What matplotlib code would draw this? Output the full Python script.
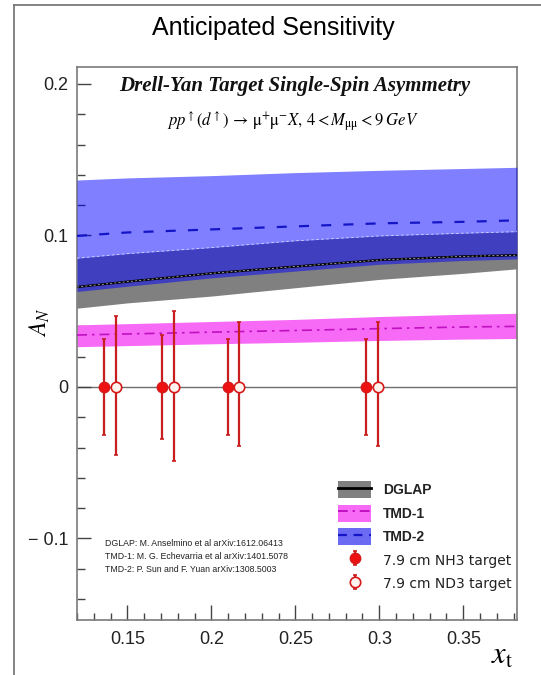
import matplotlib
matplotlib.use("Agg")
import matplotlib.pyplot as plt
import numpy as np
from matplotlib.patches import Patch
from matplotlib.lines import Line2D
from matplotlib.ticker import MultipleLocator, FixedLocator, FixedFormatter

plt.rcParams['mathtext.fontset'] = 'stix'

# ---------------- data ----------------
x_band = [0.12, 0.15, 0.20, 0.25, 0.30, 0.35, 0.382]

dglap_hi = [0.085, 0.088, 0.092, 0.0965, 0.0997, 0.1015, 0.1025]
dglap_mid = [0.066, 0.0695, 0.075, 0.0795, 0.0838, 0.0862, 0.087]
dglap_lo = [0.052, 0.0555, 0.060, 0.0655, 0.071, 0.075, 0.078]

tmd2_hi = [0.1366, 0.138, 0.1395, 0.1415, 0.143, 0.1442, 0.145]
tmd2_mid = [0.0997, 0.102, 0.104, 0.106, 0.108, 0.109, 0.110]
tmd2_lo = [0.063, 0.0665, 0.072, 0.0765, 0.081, 0.0835, 0.0845]

tmd1_hi = [0.041, 0.0418, 0.0432, 0.0446, 0.0465, 0.048, 0.0486]
tmd1_mid = [0.0343, 0.035, 0.0362, 0.0373, 0.0385, 0.0396, 0.040]
tmd1_lo = [0.0266, 0.0273, 0.0285, 0.0295, 0.0307, 0.0316, 0.032]

nh3_x = [0.1363, 0.1707, 0.2097, 0.292]
nh3_y = [0.0, 0.0, 0.0, 0.0]
nh3_err = [0.032, 0.0345, 0.032, 0.032]

nd3_x = [0.1433, 0.178, 0.2167, 0.2994]
nd3_y = [0.0, 0.0, 0.0, 0.0]
nd3_err_lo = [0.045, 0.049, 0.039, 0.039]
nd3_err_hi = [0.047, 0.050, 0.043, 0.043]

y_ticks = [-0.1, 0.0, 0.1, 0.2]
y_ticklabels = ['\u2212 0.1', '0', '0.1', '0.2']
x_ticks = [0.15, 0.20, 0.25, 0.30, 0.35]
x_ticklabels = ['0.15', '0.2', '0.25', '0.3', '0.35']

legend_labels = ['DGLAP', 'TMD-1', 'TMD-2', '7.9 cm NH3 target', '7.9 cm ND3 target']
refs = ['DGLAP: M. Anselmino et al arXiv:1612.06413',
        'TMD-1: M. G. Echevarria et al arXiv:1401.5078',
        'TMD-2: P. Sun and F. Yuan arXiv:1308.5003']

# ---------------- figure ----------------
W, H = 541, 675
fig = plt.figure(figsize=(W / 100, H / 100), dpi=100)

# outer frame
frame_col = '#7a7a7a'
fig.add_artist(Line2D([14 / W, 14 / W], [0, 1 - 5 / H], color=frame_col, lw=1.3,
                      transform=fig.transFigure))
fig.add_artist(Line2D([14 / W, 1], [1 - 5 / H, 1 - 5 / H], color=frame_col, lw=1.3,
                      transform=fig.transFigure))

fig.text(273 / W, 1 - 28 / H, 'Anticipated Sensitivity', ha='center', va='center',
         fontsize=18, family='Liberation Sans')

ax = fig.add_axes([77 / W, 1 - 620 / H, 440 / W, 553 / H])
ax.set_xlim(0.12, 0.382)
ax.set_ylim(-0.1538, 0.2112)

gray = '#808080'
# DGLAP band
ax.fill_between(x_band, dglap_lo, dglap_hi, color=gray, lw=0, zorder=2)
# TMD-2 band (semi-transparent blue)
ax.fill_between(x_band, tmd2_lo, tmd2_hi, color='#0000ff', alpha=0.5, lw=0, zorder=3)
ax.plot(x_band, dglap_hi, color='white', lw=0.6, ls=(0, (3, 3)), alpha=0.7, zorder=3.5)
# DGLAP central line
ax.plot(x_band, dglap_mid, color='black', lw=1.6, zorder=4)
ax.plot(x_band, dglap_mid, color='white', lw=0.5, ls=(0, (3, 3)), alpha=0.8, zorder=4.1)
# TMD-2 central line
ax.plot(x_band, tmd2_mid, color='#1515c8', lw=1.6, dashes=(4.5, 5.5), zorder=4)
# TMD-1 band
ax.fill_between(x_band, tmd1_lo, tmd1_hi, color='#f66af6', lw=0, zorder=2)
ax.plot(x_band, tmd1_mid, color='#c010c0', lw=1.2, dashes=(6, 3, 1.5, 3), zorder=4)

# zero line
ax.axhline(0, color='#6e6e6e', lw=1.0, zorder=1.5)

red = '#d61a1a'
eb1 = ax.errorbar(nh3_x, nh3_y, yerr=nh3_err, fmt='o', color=red, ecolor='#c81e1e',
                  elinewidth=1.6, capsize=1.5, capthick=1.2, ms=7.5, mec=red, mfc='#ee1111',
                  zorder=6)
eb2 = ax.errorbar(nd3_x, nd3_y, yerr=[nd3_err_lo, nd3_err_hi], fmt='o', color=red,
                  ecolor='#c81e1e', elinewidth=1.6, capsize=1.5, capthick=1.2, ms=7.5,
                  mec=red, mfc='#fff4ee', mew=1.2, zorder=6)

# ticks
ax.yaxis.set_major_locator(FixedLocator(y_ticks))
ax.yaxis.set_major_formatter(FixedFormatter(y_ticklabels))
ax.yaxis.set_minor_locator(MultipleLocator(0.02))
ax.xaxis.set_major_locator(FixedLocator(x_ticks))
ax.xaxis.set_major_formatter(FixedFormatter(x_ticklabels))
ax.xaxis.set_minor_locator(MultipleLocator(0.01))
ax.tick_params(axis='both', which='both', direction='in', color='#444444',
               top=False, right=False)
ax.tick_params(axis='y', which='major', length=10, width=1.0, pad=6)
ax.tick_params(axis='y', which='minor', length=6, width=1.0)
ax.tick_params(axis='x', which='major', length=11, width=1.0, pad=8)
ax.tick_params(axis='x', which='minor', length=5, width=1.0)
for lab in ax.get_xticklabels() + ax.get_yticklabels():
    lab.set_family('Liberation Sans')
    lab.set_fontsize(13)
    lab.set_color('#222222')
for sp in ax.spines.values():
    sp.set_color('#7a7a7a')
    sp.set_linewidth(1.2)

# axis labels
fig.text(40 / W, 1 - 322 / H, r'$A_N$', rotation=90, ha='center', va='center', fontsize=17)
fig.text(502 / W, 1 - 655 / H, r'$x_{\mathrm{t}}$', ha='center', va='center', fontsize=22)

# titles inside
ax.text(0.4955, 0.9656, 'Drell-Yan Target Single-Spin Asymmetry', transform=ax.transAxes,
        ha='center', va='center', fontsize=15, family='Liberation Serif',
        weight='bold', style='italic', color='#111111')
ax.text(0.491, 0.900,
        r'$pp^{\uparrow}(d^{\uparrow})\, \rightarrow\, \mathrm{\mu^{+}\mu^{-}}X,\, 4 < M_{\mathrm{\mu\mu}} < 9\; GeV$',
        transform=ax.transAxes, ha='center', va='center', fontsize=12)

# references
for i, r in enumerate(refs):
    ax.text(0.0636, 0.139 - i * 0.0235, r, transform=ax.transAxes, ha='left', va='center',
            fontsize=6.3, family='Liberation Sans', color='#222222')

# legend
h_dglap = (Patch(facecolor=gray, edgecolor='none'), Line2D([], [], color='black', lw=2))
h_tmd1 = (Patch(facecolor='#f66af6', edgecolor='none'),
          Line2D([], [], color='#c010c0', lw=1.4, dashes=(5, 2.5, 1.2, 2.5)))
h_tmd2 = (Patch(facecolor='#6a6af2', edgecolor='none'),
          Line2D([], [], color='#1515c8', lw=1.6, dashes=(4, 3)))
leg = ax.legend([h_dglap, h_tmd1, h_tmd2, eb1, eb2], legend_labels,
                loc='upper left', bbox_to_anchor=(0.593, 0.251), frameon=False,
                borderpad=0, borderaxespad=0, handlelength=2.4, handleheight=1.5,
                handletextpad=0.85, labelspacing=0.47, fontsize=10)
for i, t in enumerate(leg.get_texts()):
    if i < 3:
        t.set_family('Liberation Sans')
        t.set_weight('bold')
    else:
        t.set_family('DejaVu Sans')
    t.set_color('#222222')

fig.savefig('out.png', dpi=100)
